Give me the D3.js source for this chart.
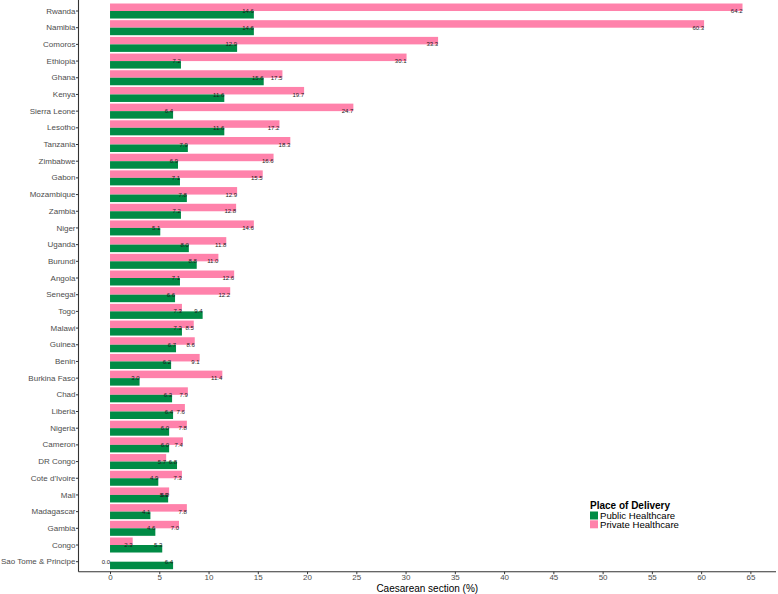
<!DOCTYPE html>
<html>
<head>
<meta charset="utf-8">
<script src="https://cdn.jsdelivr.net/npm/d3@7/dist/d3.min.js"></script>
<style>
  html, body { margin: 0; padding: 0; background: #fff; }
  svg { display: block; font-family: "Liberation Sans", Arial, Helvetica, sans-serif; }
</style>
</head>
<body>
<svg id="chart" width="778" height="594"></svg>
<script>
const countries = ["Rwanda","Namibia","Comoros","Ethiopia","Ghana","Kenya","Sierra Leone","Lesotho","Tanzania","Zimbabwe","Gabon","Mozambique","Zambia","Niger","Uganda","Burundi","Angola","Senegal","Togo","Malawi","Guinea","Benin","Burkina Faso","Chad","Liberia","Nigeria","Cameron","DR Congo","Cote d'Ivoire","Mali","Madagascar","Gambia","Congo","Sao Tome & Principe"];
const publicValues = [14.6,14.6,12.9,7.2,15.6,11.6,6.4,11.6,7.9,6.9,7.1,7.8,7.2,5.1,8.0,8.8,7.1,6.6,9.4,7.3,6.7,6.2,3.0,6.3,6.4,6.0,6.0,6.8,4.9,5.9,4.1,4.6,5.3,6.4];
const privateValues = [64.2,60.3,33.3,30.1,17.5,19.7,24.7,17.2,18.3,16.6,15.5,12.9,12.8,14.6,11.8,11.0,12.6,12.2,7.3,8.5,8.6,9.1,11.4,7.9,7.6,7.8,7.4,5.7,7.3,6.0,7.8,7.0,2.3,0.0];
const xTicks = [0,5,10,15,20,25,30,35,40,45,50,55,60,65];
const seriesNames = ["Public Healthcare","Private Healthcare"];
const seriesColors = ["#008B45","#FF82AB"];

const svg = d3.select("#chart");
const panel = {left: 78.5, right: 776, top: 1, bottom: 571.7};

const x = d3.scaleLinear().domain([-3.2, 67.6]).range([panel.left, panel.right]);
const y = d3.scaleBand().domain(countries).range([panel.top, panel.bottom])
  .paddingInner(0.1).paddingOuter(0.15);
const sub = d3.scaleBand().domain(["Private","Public"]).range([0, y.bandwidth()]);

const rows = countries.map((c, i) => ({country: c, Public: publicValues[i], Private: privateValues[i]}));

// bars
const g = svg.append("g");
rows.forEach(r => {
  ["Private","Public"].forEach(k => {
    g.append("rect")
      .attr("x", x(0))
      .attr("y", y(r.country) + sub(k))
      .attr("width", Math.max(0, x(r[k]) - x(0)))
      .attr("height", sub.bandwidth())
      .attr("fill", k === "Public" ? seriesColors[0] : seriesColors[1]);
  });
});

// value labels
rows.forEach(r => {
  ["Private","Public"].forEach(k => {
    g.append("text")
      .attr("x", x(r[k]))
      .attr("y", y(r.country) + y.bandwidth() / 2)
      .attr("dy", "0.35em")
      .attr("text-anchor", "end")
      .attr("font-size", 6)
      .attr("fill", "#1a1a1a")
      .text(r[k].toFixed(1));
  });
});

// axes
const xAxis = d3.axisBottom(x).tickValues(xTicks).tickSize(2.5).tickPadding(0.5).tickFormat(d3.format("d"));
const xa = svg.append("g").attr("transform", `translate(0,${panel.bottom})`).call(xAxis);
xa.select(".domain").remove();
xa.append("line").attr("x1", panel.left).attr("x2", panel.right).attr("stroke", "#333").attr("stroke-width", 1.1);
xa.selectAll(".tick line").attr("stroke", "#333");
xa.selectAll(".tick text").attr("fill", "#4d4d4d").attr("font-size", 8).attr("font-family", "Liberation Sans, Arial, sans-serif");

const yAxis = d3.axisLeft(y).tickSize(2.5).tickPadding(0.5);
const ya = svg.append("g").attr("transform", `translate(${panel.left},0)`).call(yAxis);
ya.select(".domain").remove();
ya.append("line").attr("y1", 0).attr("y2", panel.bottom).attr("stroke", "#333").attr("stroke-width", 1.1);
ya.selectAll(".tick line").attr("stroke", "#333");
ya.selectAll(".tick text").attr("fill", "#4d4d4d").attr("font-size", 8).attr("font-family", "Liberation Sans, Arial, sans-serif");

// x title
svg.append("text")
  .attr("x", (panel.left + panel.right) / 2)
  .attr("y", 591.5)
  .attr("text-anchor", "middle")
  .attr("font-size", 10)
  .attr("fill", "#000")
  .text("Caesarean section (%)");

// legend
const lg = svg.append("g").attr("transform", "translate(590,0)");
lg.append("text").attr("x", 0).attr("y", 509).attr("font-size", 10).attr("font-weight", "bold").attr("fill", "#000").text("Place of Delivery");
seriesNames.forEach((n, i) => {
  lg.append("rect").attr("x", 0).attr("y", 511.5 + i * 8.8).attr("width", 8).attr("height", 8).attr("fill", seriesColors[i]);
  lg.append("text").attr("x", 10).attr("y", 518.8 + i * 8.8).attr("font-size", 9.6).attr("fill", "#000").text(n);
});
</script>
</body>
</html>
